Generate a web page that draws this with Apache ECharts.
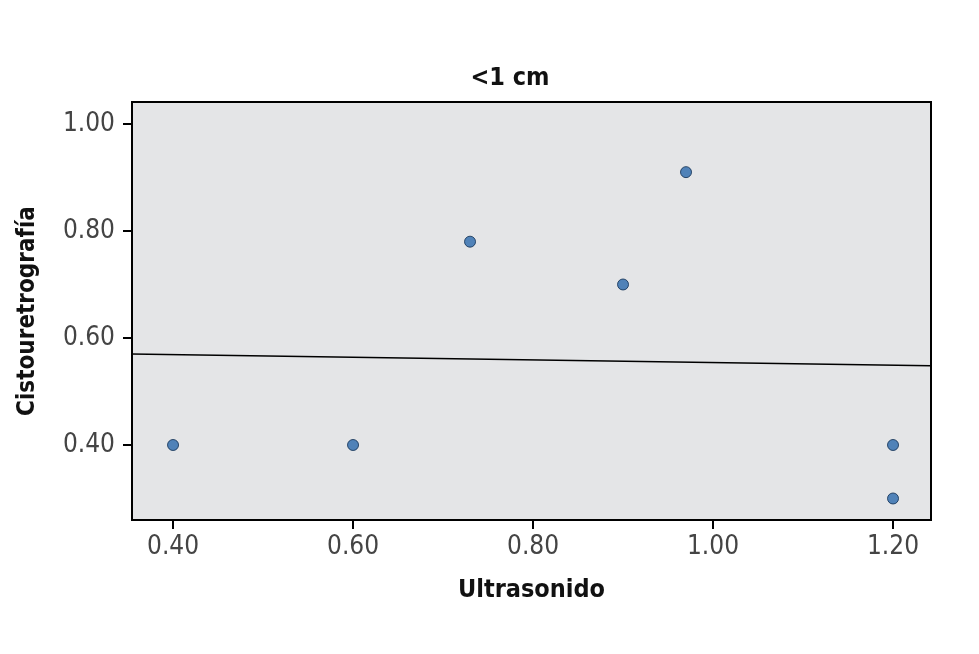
<!DOCTYPE html>
<html>
<head>
<meta charset="utf-8">
<script src="https://cdn.jsdelivr.net/npm/echarts@6/dist/echarts.min.js"></script>
<style>
  html, body { margin: 0; padding: 0; background: #fff; }
  #chart { width: 979px; height: 654px; }
</style>
</head>
<body>
<div id="chart"></div>
<script>
// valores
var ultrasonido = [0.40, 0.60, 0.73, 0.90, 0.97, 1.20, 1.20];
var cistouretrografia = [0.40, 0.40, 0.78, 0.70, 0.91, 0.40, 0.30];
// recta de ajuste (extremos leídos)
var ajusteX = [0.354, 1.242];
var ajusteY = [0.570, 0.548];

var chart = echarts.init(document.getElementById('chart'));

var puntos = ultrasonido.map(function (x, i) { return [x, cistouretrografia[i]]; });
var recta = ajusteX.map(function (x, i) { return [x, ajusteY[i]]; });

var fuente = "'DejaVu Sans Condensed', sans-serif";

var option = {
    animation: false,
    title: {
        text: '<1 cm',
        left: 505,
        top: 61,
        textAlign: 'center',
        textStyle: { fontFamily: fuente, fontSize: 25, fontWeight: 'bold', color: '#111' }
    },
    grid: {
        left: 132,
        right: 48,
        top: 102,
        bottom: 134,
        show: true,
        backgroundColor: '#e4e5e7',
        borderColor: '#000',
        borderWidth: 2
    },
    xAxis: {
        type: 'value',
        min: 0.3544,
        max: 1.2422,
        name: 'Ultrasonido',
        nameLocation: 'middle',
        nameGap: 58,
        nameTextStyle: { fontFamily: fuente, fontSize: 25, fontWeight: 'bold', color: '#111' },
        axisLine: { show: false },
        splitLine: { show: false },
        axisLabel: {
            fontFamily: fuente, fontSize: 26, color: '#444', margin: 14,
            customValues: [0.4, 0.6, 0.8, 1.0, 1.2],
            formatter: function (v) { return v.toFixed(2); }
        },
        axisTick: { show: true, length: 9, lineStyle: { color: '#000', width: 2 },
            customValues: [0.4, 0.6, 0.8, 1.0, 1.2] }
    },
    yAxis: {
        type: 'value',
        min: 0.2598,
        max: 1.0411,
        name: 'Cistouretrografía',
        nameLocation: 'middle',
        nameGap: 92,
        nameTextStyle: { fontFamily: fuente, fontSize: 24, fontWeight: 'bold', color: '#111' },
        axisLine: { show: false },
        splitLine: { show: false },
        axisLabel: {
            fontFamily: fuente, fontSize: 26, color: '#444', margin: 17,
            customValues: [0.4, 0.6, 0.8, 1.0],
            formatter: function (v) { return v.toFixed(2); }
        },
        axisTick: { show: true, length: 9, lineStyle: { color: '#000', width: 2 },
            customValues: [0.4, 0.6, 0.8, 1.0] }
    },
    series: [
        {
            type: 'line',
            data: recta,
            symbol: 'none',
            lineStyle: { color: '#000', width: 1.5 },
            z: 2
        },
        {
            type: 'scatter',
            data: puntos,
            symbolSize: 11,
            itemStyle: { color: '#2a69ad', borderColor: '#0d2c50', borderWidth: 1 },
            z: 3
        }
    ]
};

chart.setOption(option);
</script>
</body>
</html>
